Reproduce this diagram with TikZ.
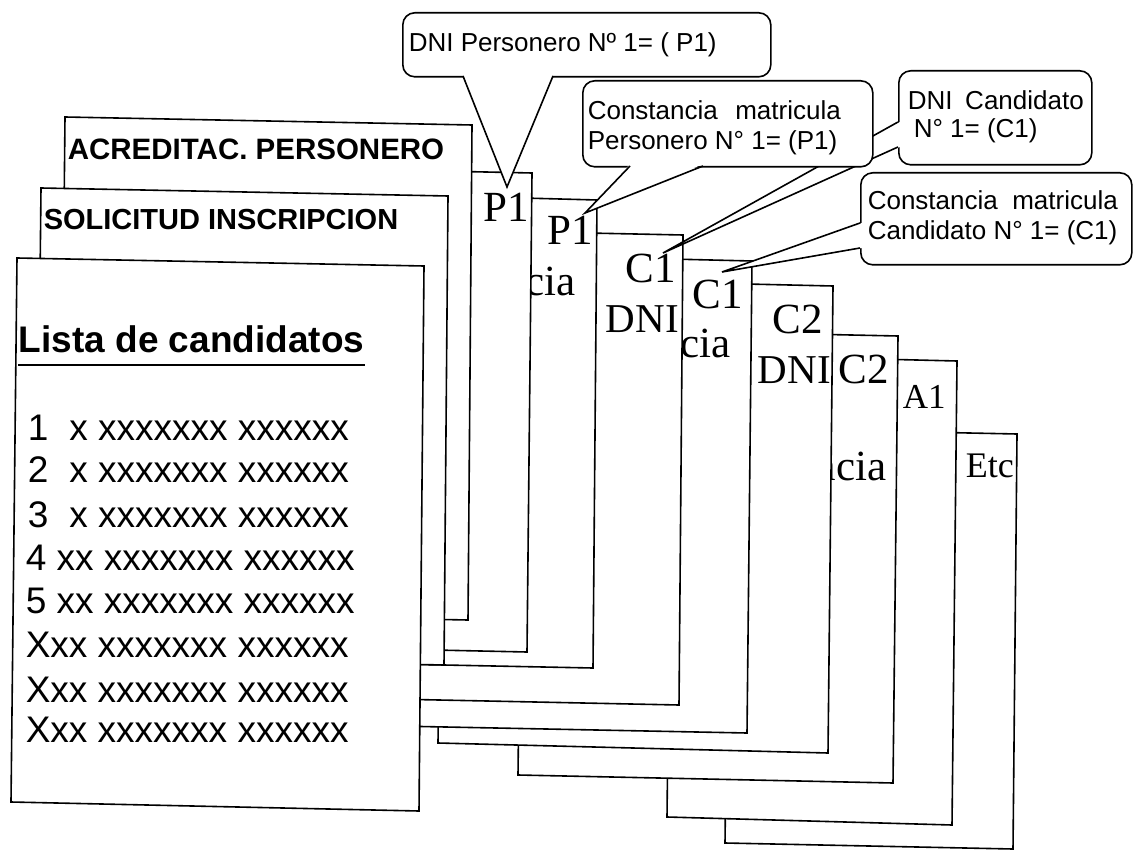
\documentclass[tikz,border=0pt]{standalone}
\usepackage{fontspec}
\newfontfamily\arialf{Liberation Sans}
\newfontfamily\timesf{Liberation Serif}
\begin{document}
\begin{tikzpicture}[x=1pt,y=-1pt,line width=1.6pt,
  sheet/.style={draw=black,fill=white,line width=1.6pt,line join=miter},
  tabtxt/.style={inner sep=0,anchor=base west,font=\timesf\fontsize{43}{43}\selectfont},
  tabhid/.style={inner sep=0,anchor=base east,font=\timesf\fontsize{43}{43}\selectfont},
  headtxt/.style={inner sep=0,anchor=base west,font=\arialf\bfseries\fontsize{29.5}{30}\selectfont},
  listtxt/.style={inner sep=0,anchor=base west,font=\arialf\fontsize{37}{40}\selectfont},
  calltxt/.style={inner sep=0,anchor=base west,font=\arialf\fontsize{26}{30}\selectfont},
  callbox/.style={draw=black,fill=white,rounded corners=12pt,inner sep=0,line width=1.6pt,anchor=north west},
  pointer/.style={draw=black,line width=1.6pt,line join=miter}]
\useasboundingbox (0,0) rectangle (1137,850);
\fill[white] (0,0) rectangle (1137,850);

% ---- sheets, back to front ----
\draw[sheet] (730,428) -- (1017,434) -- (1013,849) -- (725,843) -- cycle;
\node[tabtxt,font=\timesf\fontsize{36}{36}\selectfont] (etc) at (965,477) {Etc};
\draw[sheet] (672,354) -- (957,361) -- (952,825) -- (667,817) -- cycle;
\node[tabtxt,font=\timesf\fontsize{35}{35}\selectfont] (a1) at (902,408) {A1};
\draw[sheet] (523,328) -- (898,336) -- (893,783) -- (518,775) -- cycle;
\node[tabtxt] (c2b) at (838,383) {C2};
\node[tabhid] (cons9) at (887,480) {ncia};
\draw[sheet] (443,277) -- (833,286) -- (828,753) -- (438,743) -- cycle;
\node[tabtxt] (c2a) at (772,333) {C2};
\node[tabtxt,font=\timesf\fontsize{41}{41}\selectfont] (dni8) at (757,383) {DNI};
\draw[sheet] (300,250) -- (752,261) -- (747,733) -- (295,724) -- cycle;
\node[tabtxt] (c1b) at (692,308) {C1};
\node[tabhid] (cons7) at (731,357) {cia};
\draw[sheet] (300,227) -- (683,235) -- (679,705) -- (295,697) -- cycle;
\node[tabtxt] (c1a) at (625,282) {C1};
\node[tabtxt,font=\timesf\fontsize{41}{41}\selectfont] (dni6) at (605,332) {DNI};
\draw[sheet] (300,192) -- (597,200) -- (593,668) -- (295,662) -- cycle;
\node[tabtxt] (p1b) at (547,245) {P1};
\node[tabhid] (cons5) at (576,295) {cia};
\draw[sheet] (300,168) -- (532,173) -- (527,652) -- (295,647) -- cycle;
\node[tabtxt] (p1a) at (483,222) {P1};
\draw[sheet] (65,117) -- (472,125) -- (468,620) -- (60,612) -- cycle;
\node[headtxt] (acred) at (67,160) {ACREDITAC. PERSONERO};
\draw[sheet] (41,188) -- (448,196) -- (444,665) -- (36,657) -- cycle;
\node[headtxt,font=\arialf\bfseries\fontsize{29}{30}\selectfont] (solic) at (43,230) {SOLICITUD INSCRIPCION};
\draw[sheet] (17,258) -- (424,266) -- (419,811) -- (11,802) -- cycle;
\node[headtxt,font=\arialf\bfseries\fontsize{37}{40}\selectfont] (lista) at (18,352) {Lista de candidatos};
\draw[line width=2.8pt] ([yshift=-13pt]lista.base west) -- ([yshift=-13pt]lista.base east);
\node[listtxt] (l1) at (27,440) {1\hspace{21pt}x xxxxxxx xxxxxx};
\node[listtxt] (l2) at (27,482) {2\hspace{21pt}x xxxxxxx xxxxxx};
\node[listtxt] (l3) at (27,527) {3\hspace{21pt}x xxxxxxx xxxxxx};
\node[listtxt] (l4) at (25,570) {4 xx xxxxxxx xxxxxx};
\node[listtxt] (l5) at (25,613) {5 xx xxxxxxx xxxxxx};
\node[listtxt] (l6) at (25,657) {Xxx xxxxxxx xxxxxx};
\node[listtxt] (l7) at (25,702) {Xxx xxxxxxx xxxxxx};
\node[listtxt] (l8) at (25,742) {Xxx xxxxxxx xxxxxx};

% ---- callout C (behind B) ----
\node[callbox,minimum width=193pt,minimum height=94pt] (boxC) at (898,70) {};
\coordinate (cT) at (898,122); \coordinate (cB) at (898,147); \coordinate (tipC) at (663,253);
\fill[white] ([xshift=1.8pt]cT) -- (tipC) -- ([xshift=1.8pt]cB) -- cycle;
\draw[pointer] (cT) -- (tipC) -- (cB);
\node[calltxt] (tC1) at (907,110) {\makebox[176pt][s]{DNI Candidato}};
\node[calltxt] (tC2) at (913,138) {N° 1= (C1)};

% ---- callout B ----
\node[callbox,minimum width=290pt,minimum height=86pt] (boxB) at (582,80) {};
\coordinate (bL) at (630,166); \coordinate (bR) at (703,166); \coordinate (tipB) at (585,213);
\fill[white] ([yshift=1.8pt]bL) -- (tipB) -- ([yshift=1.8pt]bR) -- cycle;
\draw[pointer] (bL) -- (tipB) -- (bR);
\node[calltxt] (tB1) at (587,120) {\makebox[253pt][s]{Constancia matricula}};
\node[calltxt] (tB2) at (587,150) {Personero N° 1= (P1)};

% ---- callout A ----
\node[callbox,minimum width=368pt,minimum height=64pt] (boxA) at (402,12) {};
\coordinate (aL) at (463,76); \coordinate (aR) at (553,76); \coordinate (tipA) at (507,187);
\fill[white] ([yshift=1.8pt]aL) -- (tipA) -- ([yshift=1.8pt]aR) -- cycle;
\draw[pointer] (aL) -- (tipA) -- (aR);
\node[calltxt] (tA) at (408,52) {DNI Personero Nº 1= ( P1)};

% ---- callout D ----
\node[callbox,minimum width=271pt,minimum height=92pt] (boxD) at (860,172) {};
\coordinate (dT) at (860,223); \coordinate (dB) at (860,248); \coordinate (tipD) at (722,272);
\fill[white] ([xshift=1.8pt]dT) -- (tipD) -- ([xshift=1.8pt]dB) -- cycle;
\draw[pointer] (dT) -- (tipD) -- (dB);
\node[calltxt] (tD1) at (867,210) {\makebox[250pt][s]{Constancia matricula}};
\node[calltxt] (tD2) at (867,240) {Candidato N° 1= (C1)};
\end{tikzpicture}
\end{document}
